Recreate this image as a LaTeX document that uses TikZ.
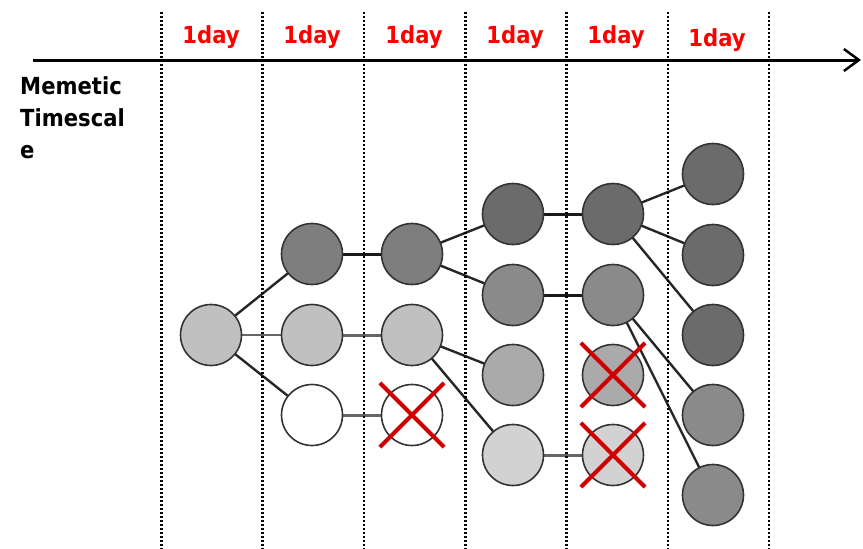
\documentclass[tikz,border=0pt]{standalone}
\usepackage{fontspec}
\setmainfont{DejaVu Sans Condensed}
\usetikzlibrary{arrows.meta,shapes.misc,backgrounds}
\definecolor{xred}{HTML}{D00000}
\definecolor{cA}{HTML}{6B6B6B}
\definecolor{cB}{HTML}{7E7E7E}
\definecolor{cC}{HTML}{8A8A8A}
\definecolor{cD}{HTML}{AAAAAA}
\definecolor{cE}{HTML}{C0C0C0}
\definecolor{cF}{HTML}{D2D2D2}
\tikzset{
  meme/.style={circle, draw=black!80, line width=1.6pt, minimum size=61pt, inner sep=0pt, outer sep=0pt},
  daylabel/.style={anchor=base, text=red, font=\fontsize{23.5}{28}\selectfont\bfseries, inner sep=0pt},
  sidelabel/.style={anchor=base west, font=\fontsize{23.5}{28}\selectfont\bfseries, inner sep=0pt},
  divider/.style={line width=2.6pt, dash pattern=on 2pt off 2pt},
  edgedark/.style={draw=black!85, line width=2.4pt},
  edgegray/.style={draw=black!60, line width=2.4pt},
  linkdark/.style={draw=black!90, line width=3pt},
  linkgray/.style={draw=black!60, line width=3pt},
  xmark/.style={cross out, draw=xred, line width=4.2pt, minimum size=60pt, inner sep=0pt}
}
\begin{document}
\begin{tikzpicture}[x=1pt,y=-1pt]
\useasboundingbox (0,0) rectangle (863,549);
% dividers
\foreach \i in {0,...,6} {
  \draw[divider] ({161.3+101.3*\i},12) -- ({161.3+101.3*\i},549);
}
% axis
\coordinate (axs) at (33,60);
\coordinate (axe) at (861,60);
\draw[line width=3pt, -{Straight Barb[length=15pt,width=22pt,line width=2.5pt]}] (axs) -- (axe);
% labels
\node[daylabel] (d1) at (211,43) {1day};
\node[daylabel] (d2) at (312,43) {1day};
\node[daylabel] (d3) at (414,43) {1day};
\node[daylabel] (d4) at (515,43) {1day};
\node[daylabel] (d5) at (616,43) {1day};
\node[daylabel] (d6) at (717,46) {1day};
\node[sidelabel] (m1) at (20,94) {Memetic};
\node[sidelabel] (m2) at (20,126) {Timescal};
\node[sidelabel] (m3) at (20,158) {e};
% circles
\node[meme, fill=cE] (a1) at (211,335) {};
\node[meme, fill=cB] (b1) at (312,254) {};
\node[meme, fill=cE] (b2) at (312,335) {};
\node[meme, fill=white] (b3) at (312,415) {};
\node[meme, fill=cB] (c1) at (412,254) {};
\node[meme, fill=cE] (c2) at (412,335) {};
\node[meme, fill=white] (c3) at (412,415) {};
\node[meme, fill=cA] (e1) at (513,214) {};
\node[meme, fill=cC] (e2) at (513,295) {};
\node[meme, fill=cD] (e3) at (513,375) {};
\node[meme, fill=cF] (e4) at (513,455) {};
\node[meme, fill=cA] (f1) at (613,214) {};
\node[meme, fill=cC] (f2) at (613,295) {};
\node[meme, fill=cD] (f3) at (613,375) {};
\node[meme, fill=cF] (f4) at (613,455) {};
\node[meme, fill=cA] (g1) at (713,174) {};
\node[meme, fill=cA] (g2) at (713,255) {};
\node[meme, fill=cA] (g3) at (713,335) {};
\node[meme, fill=cC] (g4) at (713,415) {};
\node[meme, fill=cC] (g5) at (713,495) {};
% crosses
\node[xmark] (x1) at (c3) {};
\node[xmark] (x2) at (f3) {};
\node[xmark] (x3) at (f4) {};
% connectors
\begin{pgfonlayer}{background}
\draw[edgedark] (a1) -- (b1);
\draw[edgegray] (a1) -- (b2);
\draw[edgedark] (a1) -- (b3);
\draw[linkdark] (b1) -- (c1);
\draw[linkgray] (b2) -- (c2);
\draw[linkgray] (b3) -- (c3);
\draw[edgedark] (c1) -- (e1);
\draw[edgedark] (c1) -- (e2);
\draw[edgedark] (c2) -- (e3);
\draw[edgedark] (c2) -- (e4);
\draw[linkdark] (e1) -- (f1);
\draw[linkdark] (e2) -- (f2);
\draw[linkgray] (e4) -- (f4);
\draw[edgedark] (f1) -- (g1);
\draw[edgedark] (f1) -- (g2);
\draw[edgedark] (f1) -- (g3);
\draw[edgedark] (f2) -- (g4);
\draw[edgedark] (f2) -- (g5);
\end{pgfonlayer}
\end{tikzpicture}
\end{document}
